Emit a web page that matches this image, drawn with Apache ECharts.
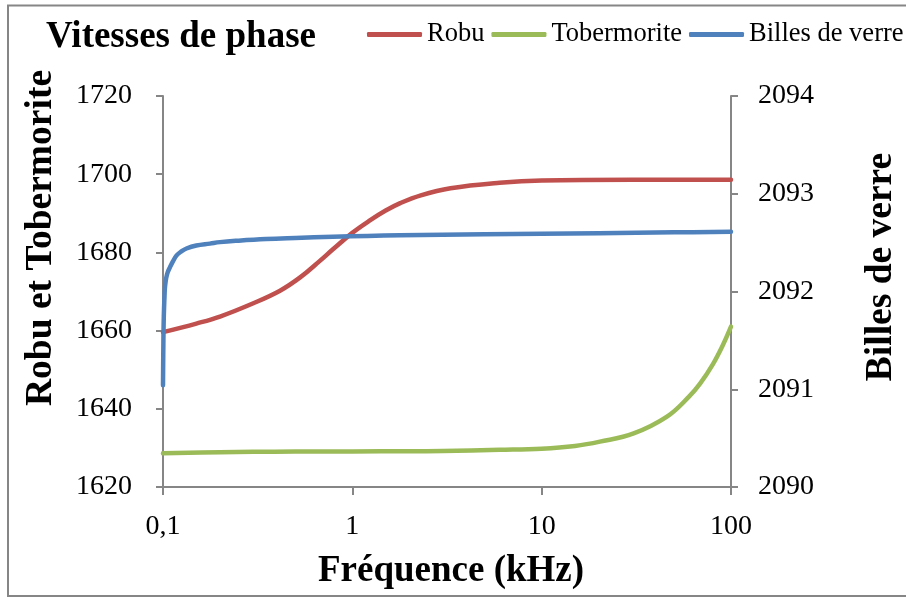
<!DOCTYPE html>
<html>
<head>
<meta charset="utf-8">
<title>Vitesses de phase</title>
<script src="https://cdn.jsdelivr.net/npm/echarts@6/dist/echarts.min.js"></script>
<style>
  html, body { margin: 0; padding: 0; background: #fff; }
  #chart { width: 906px; height: 597px; }
</style>
</head>
<body>
<div id="chart"></div>
<script>
// Fréquence en kHz (axe logarithmique)
const freqRobu = [0.1, 0.15, 0.2, 0.3, 0.415, 0.53, 0.676, 0.79, 1, 1.25, 1.5, 1.79, 2.3, 3.3, 6, 10, 30, 100];
const robu     = [1659.6, 1661.8, 1663.6, 1667.0, 1670.2, 1673.6, 1677.9, 1680.8, 1685.0, 1688.3, 1690.7, 1692.6, 1694.6, 1696.4, 1697.8, 1698.4, 1698.6, 1698.6];

const freqTober = [0.1, 0.2, 0.3, 0.5, 1, 2, 3, 6, 10, 15, 20.3, 30.6, 45.9, 60, 68.8, 80, 90, 100];
const tober     = [1628.6, 1628.9, 1629.0, 1629.05, 1629.1, 1629.15, 1629.2, 1629.5, 1629.8, 1630.5, 1631.6, 1633.7, 1638.0, 1643.1, 1646.5, 1651.3, 1656.0, 1661.0];

const freqBilles = [0.1, 0.1005, 0.101, 0.102, 0.1025, 0.104, 0.106, 0.109, 0.113, 0.118, 0.125, 0.133, 0.15, 0.177, 0.2, 0.25, 0.35, 0.5, 0.79, 1.2, 1.79, 3, 5, 10, 20, 50, 100];
const billes     = [2091.04, 2091.5, 2091.75, 2091.98, 2092.05, 2092.14, 2092.2, 2092.25, 2092.31, 2092.37, 2092.41, 2092.44, 2092.47, 2092.49, 2092.505, 2092.52, 2092.537, 2092.548, 2092.56, 2092.568, 2092.575, 2092.58, 2092.585, 2092.59, 2092.597, 2092.605, 2092.61];

const seriesNames = ['Robu', 'Tobermorite', 'Billes de verre'];
const seriesColors = ['#C0504D', '#9BBB59', '#4F81BD'];

const leftTicks = { min: 1620, max: 1720, interval: 20 };
const rightTicks = { min: 2090, max: 2094, interval: 1 };

const FONT = "'Liberation Serif', 'Times New Roman', serif";
const AXIS_GRAY = '#868686';

function pairs(xs, ys) { return xs.map((x, i) => [x, ys[i]]); }
const plainNumber = v => String(v);

const chart = echarts.init(document.getElementById('chart'), null, { renderer: 'canvas' });

const axisCommon = {
  axisLine: { show: true, lineStyle: { color: AXIS_GRAY, width: 2 } },
  axisTick: { show: true, inside: false, length: 7, lineStyle: { color: AXIS_GRAY, width: 2 } },
  splitLine: { show: false },
  axisLabel: { color: '#000', fontFamily: FONT, fontSize: 28 }
};

function lineSeries(name, data, yIndex, color) {
  return {
    name: name,
    type: 'line',
    yAxisIndex: yIndex,
    data: data,
    showSymbol: false,
    symbol: 'none',
    smooth: 0.4,
    lineStyle: { color: color, width: 4.5, cap: 'round', join: 'round' },
    itemStyle: { color: color },
    z: 3
  };
}

chart.setOption({
  animation: false,
  backgroundColor: '#fff',
  grid: { left: 163, right: 175, top: 96, bottom: 110, containLabel: false },
  legend: {
    data: seriesNames.map(n => ({ name: n, icon: 'roundRect' })),
    left: 367,
    top: 21,
    itemWidth: 55,
    itemHeight: 5,
    itemGap: 7,
    padding: 0,
    textStyle: { color: '#000', fontFamily: FONT, fontSize: 26.5 }
  },
  xAxis: {
    type: 'log',
    logBase: 10,
    min: 0.1,
    max: 100,
    ...axisCommon,
    axisTick: { ...axisCommon.axisTick, length: 8 },
    axisLabel: {
      ...axisCommon.axisLabel,
      margin: 26,
      formatter: v => String(+(+v).toPrecision(3)).replace('.', ',')
    }
  },
  yAxis: [
    {
      type: 'value',
      position: 'left',
      min: leftTicks.min, max: leftTicks.max, interval: leftTicks.interval,
      ...axisCommon,
      axisLabel: { ...axisCommon.axisLabel, margin: 31, formatter: plainNumber }
    },
    {
      type: 'value',
      position: 'right',
      min: rightTicks.min, max: rightTicks.max, interval: rightTicks.interval,
      ...axisCommon,
      axisLabel: { ...axisCommon.axisLabel, margin: 27, formatter: plainNumber }
    }
  ],
  series: [
    lineSeries(seriesNames[0], pairs(freqRobu, robu), 0, seriesColors[0]),
    lineSeries(seriesNames[1], pairs(freqTober, tober), 0, seriesColors[1]),
    lineSeries(seriesNames[2], pairs(freqBilles, billes), 1, seriesColors[2])
  ],
  graphic: [
    {
      type: 'rect',
      silent: true,
      shape: { x: 8, y: 5.5, width: 920, height: 590.5 },
      style: { fill: 'none', stroke: AXIS_GRAY, lineWidth: 2 }
    },
    {
      type: 'text',
      x: 46, y: 37,
      style: { text: 'Vitesses de phase', fill: '#000', font: "bold 37px " + FONT, align: 'left', verticalAlign: 'middle' }
    },
    {
      type: 'text',
      x: 451, y: 571,
      style: { text: 'Fréquence (kHz)', fill: '#000', font: "bold 37px " + FONT, align: 'center', verticalAlign: 'middle' }
    },
    {
      type: 'text',
      x: 41, y: 238,
      rotation: Math.PI / 2,
      style: { text: 'Robu et Tobermorite', fill: '#000', font: "bold 37.5px " + FONT, align: 'center', verticalAlign: 'middle' }
    },
    {
      type: 'text',
      x: 881, y: 267,
      rotation: Math.PI / 2,
      style: { text: 'Billes de verre', fill: '#000', font: "bold 37.5px " + FONT, align: 'center', verticalAlign: 'middle' }
    }
  ]
});
</script>
</body>
</html>
